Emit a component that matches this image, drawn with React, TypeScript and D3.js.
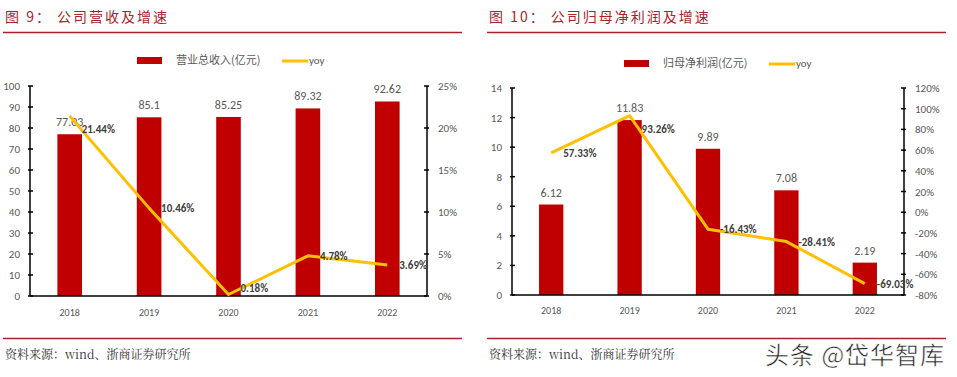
import React from "react";
import * as d3 from "d3";

const years = ["2018", "2019", "2020", "2021", "2022"];
const revenue = [77.03, 85.1, 85.25, 89.32, 92.62];
const revenueYoy = [21.44, 10.46, 0.18, 4.78, 3.69];
const profit = [6.12, 11.83, 9.89, 7.08, 2.19];
const profitYoy = [57.33, 93.26, -16.43, -28.41, -69.03];
const revLeftTicks = [0, 10, 20, 30, 40, 50, 60, 70, 80, 90, 100];
const revRightTicks = [0, 5, 10, 15, 20, 25];
const profLeftTicks = [0, 2, 4, 6, 8, 10, 12, 14];
const profRightTicks = [-80, -60, -40, -20, 0, 20, 40, 60, 80, 100, 120];

const RED = "#c00000";
const GOLD = "#ffc000";
const GRAY = "#595959";
const TITLE = "#a8232b";
const FONT = "Calibri, 'Open Sans', 'Noto Sans CJK SC', sans-serif";
const CJK = "'Noto Sans CJK SC', sans-serif";

type PanelProps = {
  ox: number;
  title: string;
  legendName: string;
  legendX: number;
  bars: number[];
  yoy: number[];
  leftTicks: number[];
  rightTicks: number[];
  leftDomain: [number, number];
  rightDomain: [number, number];
  axisL: number;
  axisR: number;
  top: number;
  bottom: number;
  legendY: number;
  xLabelY: number;
};

function Panel(p: PanelProps) {
  const x = d3.scaleBand<string>().domain(years).range([p.axisL, p.axisR]).paddingInner(0.69).paddingOuter(0.345);
  const yL = d3.scaleLinear().domain(p.leftDomain).range([p.bottom, p.top]);
  const yR = d3.scaleLinear().domain(p.rightDomain).range([p.bottom, p.top]);
  const cx = (y: string) => (x(y) as number) + x.bandwidth() / 2;
  const line = d3
    .line<number>()
    .x((_, i) => cx(years[i]))
    .y((d) => yR(d));
  const maxIdx = d3.maxIndex(p.yoy);
  const yoyLabelY = (v: number, i: number) => {
    let y = yR(v) + 4;
    if (i === maxIdx && yR(v) - p.top < 40) y += 13;
    return Math.min(y, p.bottom - 4);
  };
  return (
    <g>
      <text x={p.ox + 2} y={22} fontFamily={CJK} fontSize={14} fill={TITLE} letterSpacing={2}>
        {p.title}
      </text>
      <line x1={p.ox} x2={p.ox + 459} y1={32.5} y2={32.5} stroke={TITLE} strokeWidth={1.3} />
      {/* legend */}
      <rect x={p.legendX} y={p.legendY - 3} width={25} height={7} fill={RED} />
      <text x={p.legendX + 39} y={p.legendY + 4} fontFamily={CJK} fontSize={11} fill={GRAY}>
        {p.legendName}
      </text>
      <line x1={p.legendX + 145} x2={p.legendX + 171} y1={p.legendY + 1} y2={p.legendY + 1} stroke={GOLD} strokeWidth={3} />
      <text x={p.legendX + 172} y={p.legendY + 4} fontFamily={FONT} fontSize={11} fill={GRAY}>
        yoy
      </text>
      {/* bars */}
      {p.bars.map((v, i) => (
        <rect key={"b" + i} x={x(years[i])} y={yL(v)} width={x.bandwidth()} height={yL(p.leftDomain[0]) - yL(v)} fill={RED} />
      ))}
      {p.bars.map((v, i) => (
        <text key={"bl" + i} x={cx(years[i])} y={yL(v) - 8} textAnchor="middle" fontFamily={FONT} fontSize={12} fill={GRAY}>
          {v}
        </text>
      ))}
      {/* axes */}
      <line x1={p.axisL} x2={p.axisL} y1={p.top} y2={p.bottom} stroke="#000" strokeWidth={1.5} />
      <line x1={p.axisR} x2={p.axisR} y1={p.top} y2={p.bottom} stroke="#000" strokeWidth={1.5} />
      <line x1={p.axisL} x2={p.axisR} y1={p.bottom} y2={p.bottom} stroke="#000" strokeWidth={1.5} />
      {p.leftTicks.map((t) => (
        <g key={"lt" + t}>
          <line x1={p.axisL - 2} x2={p.axisL + 3} y1={yL(t)} y2={yL(t)} stroke="#000" strokeWidth={1.5} />
          <text x={p.axisL - 10} y={yL(t) + 4} textAnchor="end" fontFamily={FONT} fontSize={11} fill={GRAY}>
            {t}
          </text>
        </g>
      ))}
      {p.rightTicks.map((t) => (
        <g key={"rt" + t}>
          <line x1={p.axisR - 3} x2={p.axisR + 2} y1={yR(t)} y2={yR(t)} stroke="#000" strokeWidth={1.5} />
          <text x={p.axisR + 11} y={yR(t) + 4} textAnchor="start" fontFamily={FONT} fontSize={11} fill={GRAY}>
            {t + "%"}
          </text>
        </g>
      ))}
      {years.map((y) => (
        <text key={"x" + y} x={cx(y)} y={p.xLabelY} textAnchor="middle" fontFamily={FONT} fontSize={10} fill={GRAY}>
          {y}
        </text>
      ))}
      <path d={line(p.yoy) || ""} fill="none" stroke={GOLD} strokeWidth={3} strokeLinejoin="round" />
      {p.yoy.map((v, i) => (
        <text key={"yl" + i} x={cx(years[i]) + 12} y={yoyLabelY(v, i)} fontFamily={FONT} fontSize={11} fontWeight="bold" fill="#404040">
          {v.toFixed(2) + "%"}
        </text>
      ))}
      {/* footer */}
      <line x1={p.ox} x2={p.ox + 459} y1={338.5} y2={338.5} stroke={TITLE} strokeWidth={1.3} />
      <text x={p.ox + 2} y={359} fontFamily="'Noto Serif CJK SC', 'Noto Sans CJK SC', serif" fontSize={12} fill="#333">
        资料来源：wind、浙商证券研究所
      </text>
    </g>
  );
}

export default function App() {
  return (
    <svg width={957} height={377} style={{ position: "absolute", left: 0, top: 0, background: "#fff" }}>
      <rect width={957} height={377} fill="#fff" />
      <Panel
        ox={3}
        title="图 9：  公司营收及增速"
        legendName="营业总收入(亿元)"
        legendX={137}
        bars={revenue}
        yoy={revenueYoy}
        leftTicks={revLeftTicks}
        rightTicks={revRightTicks}
        leftDomain={[0, 100]}
        rightDomain={[0, 25]}
        axisL={30}
        axisR={427}
        top={86}
        bottom={296}
        legendY={60}
        xLabelY={316}
      />
      <Panel
        ox={487}
        title="图 10：  公司归母净利润及增速"
        legendName="归母净利润(亿元)"
        legendX={624}
        bars={profit}
        yoy={profitYoy}
        leftTicks={profLeftTicks}
        rightTicks={profRightTicks}
        leftDomain={[0, 14]}
        rightDomain={[-80, 120]}
        axisL={512}
        axisR={904}
        top={88}
        bottom={295}
        legendY={63}
        xLabelY={314}
      />
      <text x={765} y={364} fontFamily={CJK} fontSize={24} fill="#222" letterSpacing={1} stroke="#fff" strokeWidth={0.5}>
        头条 @岱华智库
      </text>
    </svg>
  );
}
